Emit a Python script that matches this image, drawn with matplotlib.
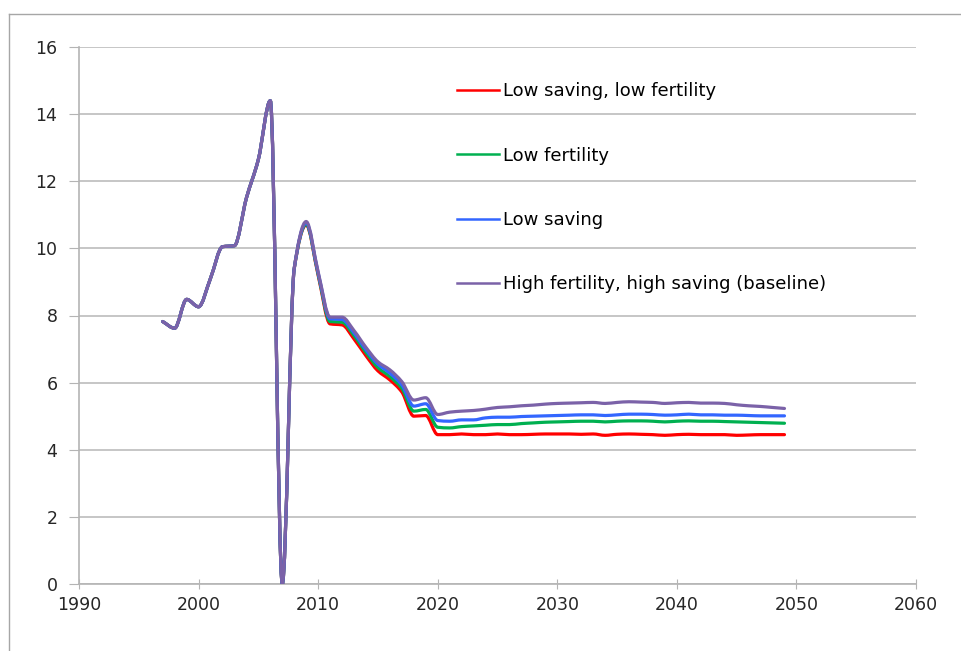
import matplotlib
matplotlib.use('Agg')
import matplotlib.pyplot as plt
import numpy as np
from matplotlib.path import Path
from matplotlib.patches import PathPatch
from matplotlib.lines import Line2D

plt.rcParams['font.family'] = ['DejaVu Sans']

years = np.arange(1997, 2050)

# shared history 1997-2008
hist = [7.82, 7.62, 8.48, 8.26, 9.11, 10.05, 10.08, 11.5, 12.65, 14.4,
        0.0, 9.4]

low_sav_low_fert = hist + [10.7, 9.2, 7.75, 7.72, 7.3, 6.8, 6.35, 6.08, 5.72,
    5.0, 5.02, 4.45, 4.45, 4.47, 4.45, 4.45, 4.47, 4.45, 4.45, 4.46, 4.47,
    4.47, 4.47, 4.46, 4.47, 4.43, 4.46, 4.47, 4.46, 4.45, 4.43, 4.45, 4.46,
    4.45, 4.45, 4.45, 4.43, 4.44, 4.45, 4.45, 4.45]
low_fert = hist + [10.72, 9.23, 7.82, 7.8, 7.4, 6.9, 6.45, 6.18, 5.83,
    5.15, 5.2, 4.67, 4.65, 4.69, 4.71, 4.73, 4.75, 4.75, 4.78, 4.80, 4.82,
    4.83, 4.84, 4.85, 4.85, 4.83, 4.85, 4.86, 4.86, 4.85, 4.83, 4.85, 4.86,
    4.85, 4.85, 4.84, 4.83, 4.82, 4.81, 4.80, 4.79]
low_sav = hist + [10.76, 9.27, 7.9, 7.88, 7.48, 6.98, 6.55, 6.28, 5.93,
    5.3, 5.37, 4.87, 4.85, 4.89, 4.89, 4.95, 4.97, 4.97, 4.99, 5.0, 5.01,
    5.02, 5.03, 5.04, 5.04, 5.02, 5.04, 5.06, 5.06, 5.05, 5.03, 5.04, 5.06,
    5.04, 5.04, 5.03, 5.03, 5.02, 5.01, 5.01, 5.01]
baseline = hist + [10.8, 9.3, 7.95, 7.95, 7.55, 7.05, 6.62, 6.38, 6.03,
    5.48, 5.55, 5.05, 5.12, 5.15, 5.17, 5.21, 5.26, 5.28, 5.31, 5.33, 5.36,
    5.38, 5.39, 5.40, 5.41, 5.38, 5.41, 5.43, 5.42, 5.41, 5.38, 5.40, 5.41,
    5.39, 5.39, 5.38, 5.34, 5.31, 5.29, 5.26, 5.23]

labels = ['Low saving, low fertility', 'Low fertility', 'Low saving',
          'High fertility, high saving (baseline)']
colors = ['#ff0000', '#00b050', '#3366ff', '#7b62a8']


def smooth_path(x, y):
    # smoothed line through every point, no overshoot (monotone cubic as bezier)
    x = np.asarray(x, float)
    y = np.asarray(y, float)
    n = len(x)
    h = np.diff(x)
    d = np.diff(y) / h
    m = np.zeros(n)
    m[0], m[-1] = d[0], d[-1]
    for k in range(1, n - 1):
        if d[k - 1] * d[k] > 0:
            w1 = 2 * h[k] + h[k - 1]
            w2 = h[k] + 2 * h[k - 1]
            m[k] = (w1 + w2) / (w1 / d[k - 1] + w2 / d[k])
    verts = [(x[0], y[0])]
    codes = [Path.MOVETO]
    for i in range(n - 1):
        c1 = (x[i] + h[i] / 3, y[i] + m[i] * h[i] / 3)
        c2 = (x[i + 1] - h[i] / 3, y[i + 1] - m[i + 1] * h[i] / 3)
        verts += [c1, c2, (x[i + 1], y[i + 1])]
        codes += [Path.CURVE4] * 3
    return Path(verts, codes)


fig = plt.figure(figsize=(9.61, 6.51), dpi=100)
ax = fig.add_axes([79 / 961, 1 - 584 / 651, (916 - 79) / 961, (584 - 47) / 651])

series = [low_sav_low_fert, low_fert, low_sav, baseline]
for vals, col in zip(series, colors):
    ax.add_patch(PathPatch(smooth_path(years, vals), fill=False, edgecolor=col,
                           lw=2.3, joinstyle='round', capstyle='round', zorder=3))

ax.set_xlim(1990, 2060)
ax.set_ylim(0, 16)
ax.set_xticks(np.arange(1990, 2061, 10))
ax.set_yticks(np.arange(0, 17, 2))
ax.yaxis.grid(True, color='#c6c6c6', lw=1.4)
ax.set_axisbelow(True)
for s in ['top', 'right']:
    ax.spines[s].set_visible(False)
for s in ['left', 'bottom']:
    ax.spines[s].set_color('#b4b4b4')
    ax.spines[s].set_linewidth(1.2)
ax.tick_params(axis='y', direction='out', length=7, color='#b4b4b4',
               labelsize=12.5, labelcolor='#262626', pad=8.5)
ax.tick_params(axis='x', direction='inout', length=7, color='#b4b4b4',
               labelsize=12.5, labelcolor='#262626', pad=5)

handles = [Line2D([], [], color=c, lw=1.8) for c in colors]
ax.legend(handles, labels, loc='upper left', frameon=False,
          bbox_to_anchor=(457 / 961, 1 - 82.5 / 651), bbox_transform=fig.transFigure,
          borderpad=0, borderaxespad=0, handlelength=2.33, handletextpad=0.22,
          labelspacing=2.56, fontsize=13)

# chart area border (cut off on right and bottom)
fig.add_artist(Line2D([9 / 961, 9 / 961], [0, 1 - 14 / 651],
                      transform=fig.transFigure, color='#a6a6a6', lw=1))
fig.add_artist(Line2D([9 / 961, 1], [1 - 14 / 651, 1 - 14 / 651],
                      transform=fig.transFigure, color='#a6a6a6', lw=1))

fig.savefig('out.png', dpi=100)
